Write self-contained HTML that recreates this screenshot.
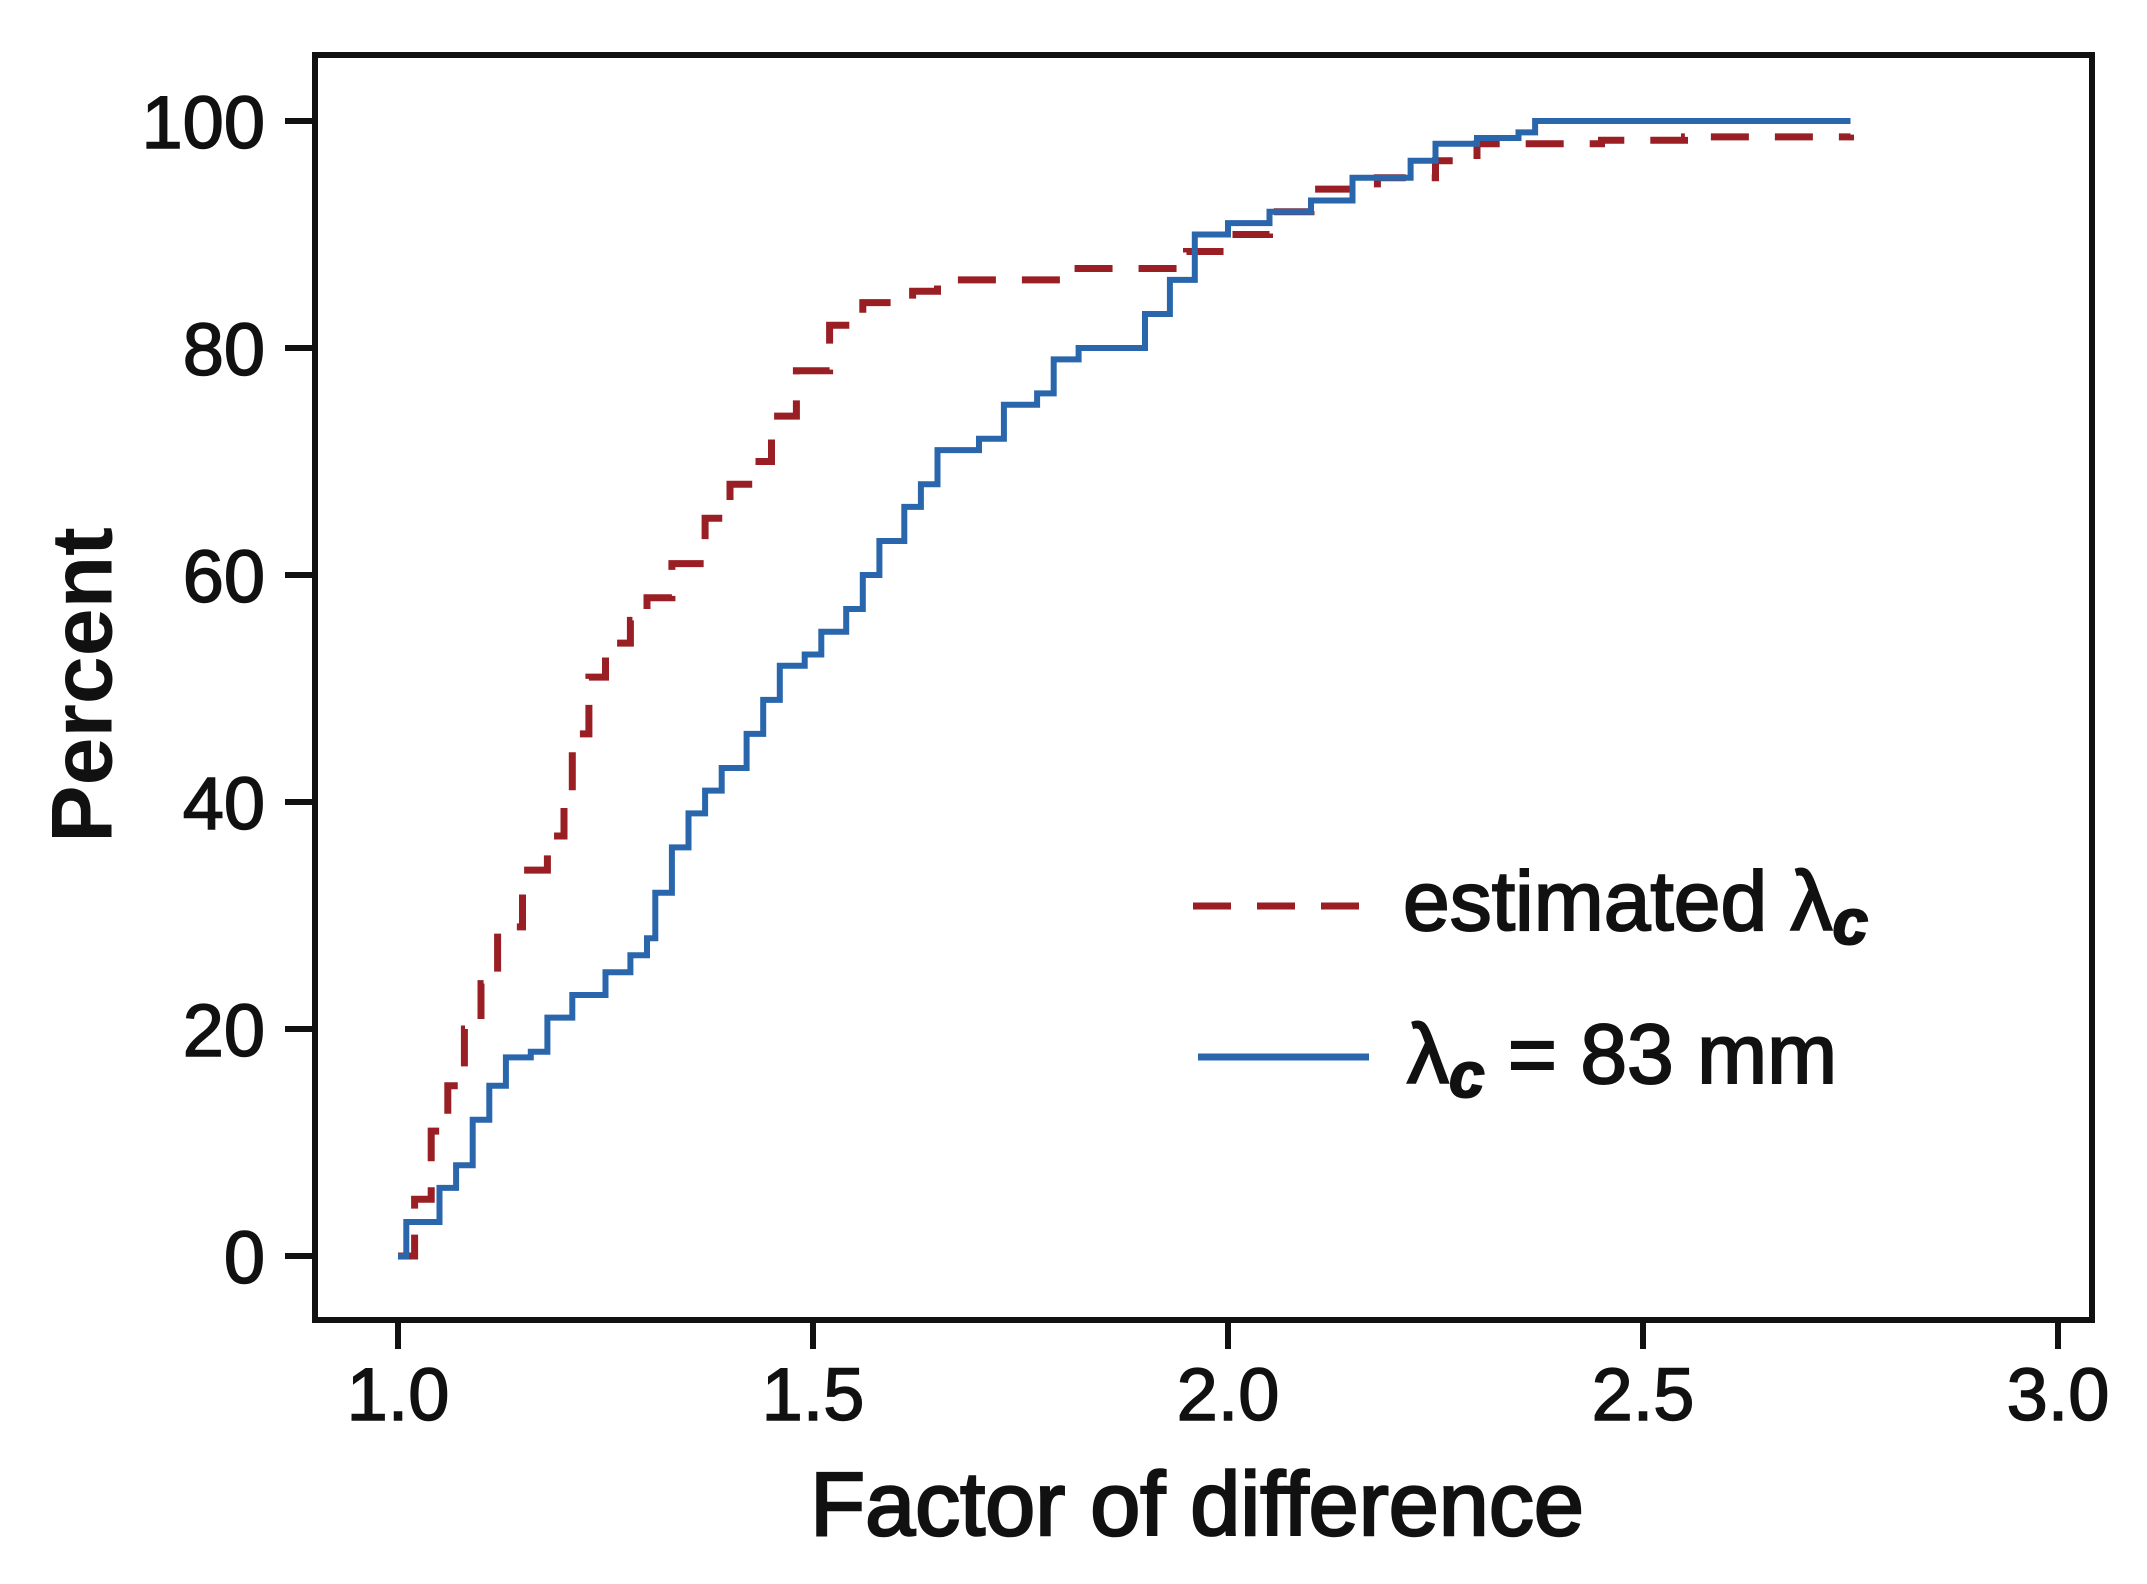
<!DOCTYPE html>
<html><head><meta charset="utf-8"><style>
html,body{margin:0;padding:0;background:#fff}
svg{display:block}
text{font-family:"Liberation Sans",sans-serif;fill:#111}
</style></head><body>
<svg id="chart" width="2147" height="1584" viewBox="0 0 2147 1584">
<rect x="315" y="55" width="1777" height="1265" fill="none" stroke="#111" stroke-width="6"/>
<g id="ticks"></g>
<g id="series"></g>
<text x="89" y="685" font-size="86" font-weight="bold" text-anchor="middle" transform="rotate(-90 89 685)" dominant-baseline="middle">Percent</text>
<text x="1197" y="1535" font-size="90" text-anchor="middle" stroke="#111" stroke-width="2.5">Factor of difference</text>
<g>
<line x1="1193" y1="906" x2="1369" y2="906" stroke="#9a1f24" stroke-width="7" stroke-dasharray="38,26"/>
<text x="1403" y="930" font-size="84" stroke="#111" stroke-width="2">estimated λ<tspan font-style="italic" font-weight="bold" font-size="64" dy="14">c</tspan></text>
<line x1="1198" y1="1057" x2="1369" y2="1057" stroke="#2a66ac" stroke-width="7"/>
<text x="1407" y="1083" font-size="84" stroke="#111" stroke-width="2">λ<tspan font-style="italic" font-weight="bold" font-size="64" dy="14">c</tspan><tspan dy="-14"> = 83 mm</tspan></text>
</g>
</svg>
<script>
const xTicks=[1.0,1.5,2.0,2.5,3.0];
const xTickLabels=["1.0","1.5","2.0","2.5","3.0"];
const yTicks=[0,20,40,60,80,100];
const yTickLabels=["0","20","40","60","80","100"];
const estX=[1.0,1.02,1.04,1.06,1.08,1.10,1.12,1.15,1.18,1.20,1.21,1.23,1.25,1.28,1.30,1.33,1.37,1.40,1.43,1.45,1.48,1.52,1.56,1.62,1.65,1.80,1.95,2.0,2.05,2.10,2.18,2.25,2.30,2.35,2.45,2.55,2.75];
const estY=[0,5,11,15,20,24,29,34,37,41,46,51,54,56,58,61,65,68,70,74,78,82,84,85,86,87,88.5,90,92,94,95,96.5,98,98,98.3,98.6,98.8];
const fixX=[1.0,1.01,1.03,1.05,1.07,1.09,1.11,1.13,1.16,1.18,1.21,1.25,1.28,1.30,1.31,1.33,1.35,1.37,1.39,1.42,1.44,1.46,1.49,1.51,1.54,1.56,1.58,1.61,1.63,1.65,1.70,1.73,1.77,1.79,1.82,1.88,1.90,1.93,1.96,2.0,2.05,2.10,2.15,2.22,2.25,2.30,2.35,2.37,2.75];
const fixY=[0,3,3,6,8,12,15,17.5,18,21,23,25,26.5,28,32,36,39,41,43,46,49,52,53,55,57,60,63,66,68,71,72,75,76,79,80,80,83,86,90,91,92,93,95,96.5,98,98.5,99,100,100];
const NS="http://www.w3.org/2000/svg";
function sx(v){return 398+(v-1)*830;}
function sy(p){return 1256-p*11.35;}
const tg=document.getElementById('ticks');
xTicks.forEach((v,i)=>{
 const l=document.createElementNS(NS,'line');
 l.setAttribute('x1',sx(v));l.setAttribute('x2',sx(v));l.setAttribute('y1',1320);l.setAttribute('y2',1349);
 l.setAttribute('stroke','#111');l.setAttribute('stroke-width',6);
 
 
 tg.appendChild(l);
 const t=document.createElementNS(NS,'text');
 t.setAttribute('x',sx(v));t.setAttribute('y',1420);t.setAttribute('font-size',74);t.setAttribute('text-anchor','middle');
 t.setAttribute('stroke','#111');t.setAttribute('stroke-width',1.5);
 t.textContent=xTickLabels[i];
 
 
 tg.appendChild(t);
});
yTicks.forEach((v,i)=>{
 const l=document.createElementNS(NS,'line');
 l.setAttribute('x1',285);l.setAttribute('x2',315);l.setAttribute('y1',sy(v));l.setAttribute('y2',sy(v));
 l.setAttribute('stroke','#111');l.setAttribute('stroke-width',6);
 
 
 tg.appendChild(l);
 const t=document.createElementNS(NS,'text');
 t.setAttribute('x',265);t.setAttribute('y',sy(v)+27);t.setAttribute('font-size',74);t.setAttribute('text-anchor','end');
 t.setAttribute('stroke','#111');t.setAttribute('stroke-width',1.5);
 t.textContent=yTickLabels[i];
 
 
 tg.appendChild(t);
});
function stepPath(xs,ys){
 let d='M'+sx(xs[0])+','+sy(ys[0]);
 for(let i=1;i<xs.length;i++){d+=' L'+sx(xs[i])+','+sy(ys[i-1])+' L'+sx(xs[i])+','+sy(ys[i]);}
 return d;
}
const sg=document.getElementById('series');
const p1=document.createElementNS(NS,'path');
p1.setAttribute('d',stepPath(estX,estY));p1.setAttribute('fill','none');p1.setAttribute('stroke','#9a1f24');p1.setAttribute('stroke-width',7);p1.setAttribute('stroke-dasharray','38,26');


sg.appendChild(p1);
const p2=document.createElementNS(NS,'path');
p2.setAttribute('d',stepPath(fixX,fixY));p2.setAttribute('fill','none');p2.setAttribute('stroke','#2a66ac');p2.setAttribute('stroke-width',6);


sg.appendChild(p2);
</script>
</body></html>
